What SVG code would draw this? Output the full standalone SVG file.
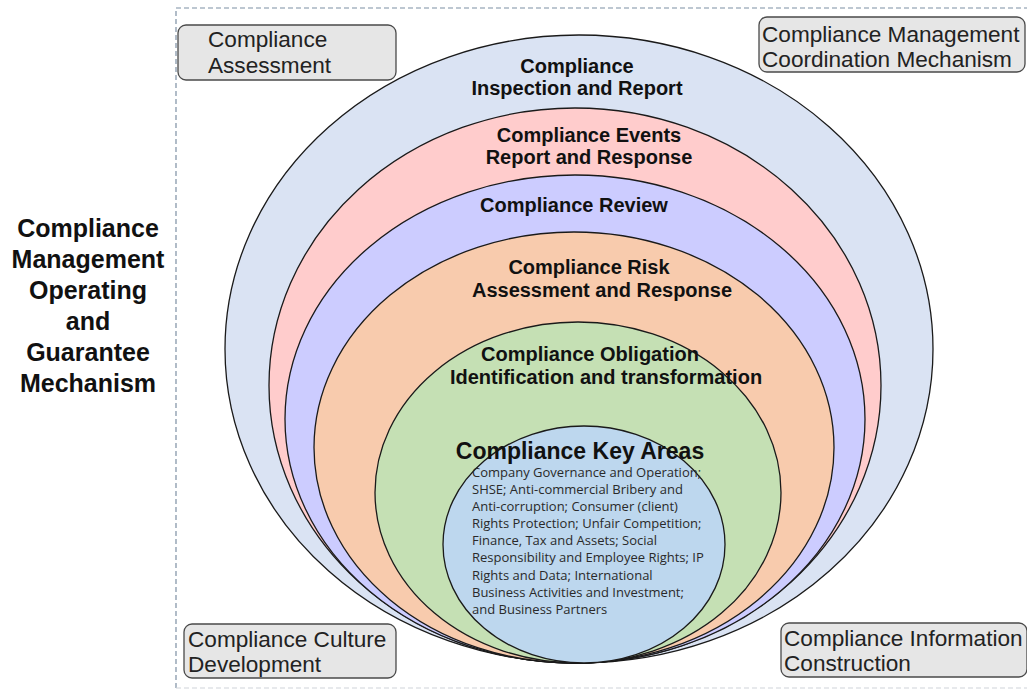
<svg xmlns="http://www.w3.org/2000/svg" width="1027" height="695" viewBox="0 0 1027 695">
<style>
.ring{stroke:#1a1a1a;stroke-width:1.3}
.lbl{font-family:"Liberation Sans",Arial,sans-serif;font-weight:bold;font-size:20px;fill:#111;text-anchor:middle}
.box{fill:#e6e6e6;stroke:#4a4a4a;stroke-width:1.3}
.bt{font-family:"Liberation Sans",Arial,sans-serif;font-size:22.6px;fill:#222}
.title{font-family:"Liberation Sans",Arial,sans-serif;font-weight:bold;font-size:25px;fill:#111;text-anchor:middle}
.body{font-family:"Open Sans","Noto Sans",sans-serif;font-size:13px;fill:#2a2a2a}
</style>
<rect width="1027" height="695" fill="#ffffff"/>
<g id="frame">
<path d="M176,688 L176,8 L1027,8" fill="none" stroke="#7d8fa3" stroke-width="1.2" stroke-dasharray="5,3"/>
<path d="M176,688 L1027,688" fill="none" stroke="#d0d4da" stroke-width="1.2" stroke-dasharray="5,3"/>
</g>
<g id="title">
<text class="title" x="88" y="237">Compliance</text>
<text class="title" x="88" y="268">Management</text>
<text class="title" x="88" y="299">Operating</text>
<text class="title" x="88" y="330">and</text>
<text class="title" x="88" y="361">Guarantee</text>
<text class="title" x="88" y="392">Mechanism</text>
</g>
<g id="ring-inspection">
<ellipse class="ring" cx="579" cy="349" rx="354" ry="314" fill="#dae3f3"/>
<text class="lbl" x="577" y="73">Compliance</text>
<text class="lbl" x="577" y="95">Inspection and Report</text>
</g>
<g id="ring-events">
<ellipse class="ring" cx="575" cy="385.5" rx="306" ry="277.5" fill="#ffcccc"/>
<text class="lbl" x="589" y="142">Compliance Events</text>
<text class="lbl" x="589" y="164">Report and Response</text>
</g>
<g id="ring-review">
<ellipse class="ring" cx="575" cy="419" rx="290" ry="244" fill="#ccccff"/>
<text class="lbl" x="574" y="212">Compliance Review</text>
</g>
<g id="ring-risk">
<ellipse class="ring" cx="574" cy="447.5" rx="260" ry="215.5" fill="#f8cbad"/>
<text class="lbl" x="589" y="274">Compliance Risk</text>
<text class="lbl" x="602" y="297">Assessment and Response</text>
</g>
<g id="ring-obligation">
<ellipse class="ring" cx="578" cy="492.5" rx="203" ry="170.5" fill="#c5e0b4"/>
<text class="lbl" x="590" y="361">Compliance Obligation</text>
<text class="lbl" x="606" y="384">Identification and transformation</text>
</g>
<g id="key-areas">
<ellipse class="ring" cx="584" cy="544.5" rx="141" ry="118.5" fill="#bdd7ee"/>
<text x="580" y="459" font-family="Liberation Sans, Arial, sans-serif" font-weight="bold" font-size="23" fill="#111" text-anchor="middle">Compliance Key Areas</text>
<text class="body" x="472" y="477">Company Governance and Operation;</text>
<text class="body" x="472" y="494">SHSE; Anti-commercial Bribery and</text>
<text class="body" x="472" y="511">Anti-corruption; Consumer (client)</text>
<text class="body" x="472" y="528">Rights Protection; Unfair Competition;</text>
<text class="body" x="472" y="545">Finance, Tax and Assets; Social</text>
<text class="body" x="472" y="562">Responsibility and Employee Rights; IP</text>
<text class="body" x="472" y="580">Rights and Data; International</text>
<text class="body" x="472" y="597">Business Activities and Investment;</text>
<text class="body" x="472" y="614">and Business Partners</text>
</g>
<g id="box-assessment">
<rect class="box" x="178" y="25" width="218" height="55" rx="8"/>
<text class="bt" x="208" y="47">Compliance</text>
<text class="bt" x="208" y="73">Assessment</text>
</g>
<g id="box-coordination">
<rect class="box" x="759" y="17" width="266" height="55" rx="8"/>
<text class="bt" x="762" y="42">Compliance Management</text>
<text class="bt" x="762" y="67">Coordination Mechanism</text>
</g>
<g id="box-culture">
<rect class="box" x="184" y="624" width="212" height="54" rx="8"/>
<text class="bt" x="188" y="647">Compliance Culture</text>
<text class="bt" x="188" y="672">Development</text>
</g>
<g id="box-information">
<rect class="box" x="781" y="623" width="246" height="54" rx="8"/>
<text class="bt" x="784" y="646">Compliance Information</text>
<text class="bt" x="784" y="671">Construction</text>
</g>
<g id="connectors"></g>
</svg>
